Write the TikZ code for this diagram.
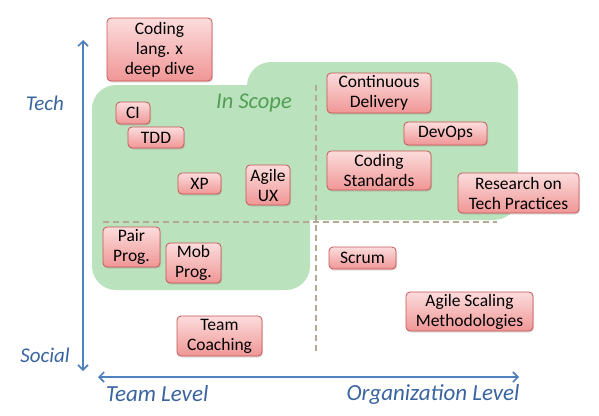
\documentclass[tikz,border=0pt]{standalone}
\usepackage{fontspec}
\setmainfont{Carlito}
\usetikzlibrary{arrows.meta,shadows}
\definecolor{scopegreen}{RGB}{186,226,188}
\definecolor{scopetext}{RGB}{82,158,84}
\definecolor{axisblue}{RGB}{79,129,189}
\definecolor{labelblue}{RGB}{58,100,160}
\definecolor{boxedge}{RGB}{200,85,85}
\definecolor{boxtop}{RGB}{252,220,220}
\definecolor{boxbot}{RGB}{240,150,150}
\definecolor{dashcol}{RGB}{180,170,148}
\tikzset{
  item/.style={draw=boxedge, line width=0.8pt, rounded corners=4pt,
    top color=boxtop, bottom color=boxbot, inner sep=0pt, align=center,
    font=\fontsize{17.5}{20}\selectfont,
    drop shadow={opacity=0.25, shadow xshift=1pt, shadow yshift=-1.5pt}},
  axisline/.style={draw=axisblue, line width=1.6pt, {Straight Barb[length=5pt,width=10pt]}-{Straight Barb[length=5pt,width=10pt]}},
  axislabel/.style={text=labelblue, font=\fontsize{23}{26}\selectfont\itshape},
  divider/.style={draw=dashcol, line width=2.3pt, dash pattern=on 6pt off 4pt},
  scope area/.style={fill=scopegreen, rounded corners=24pt}
}
\begin{document}
\begin{tikzpicture}[x=1pt,y=-1pt]
\useasboundingbox (0,0) rectangle (599,415);
% in-scope area
\fill[scope area] (92,85) rectangle (310,290);
\fill[scope area] (247,62) rectangle (518,220);
% dividers
\coordinate (hd1) at (103,222);
\coordinate (hd2) at (497,222);
\coordinate (vd1) at (316,85);
\coordinate (vd2) at (316,354);
\draw[divider] (hd1) -- (hd2);
\draw[divider] (vd1) -- (vd2);
% axes
\coordinate (vtop) at (83,40);
\coordinate (vbot) at (83,371);
\coordinate (hleft) at (98,377);
\coordinate (hright) at (519,377);
\draw[axisline] (vtop) -- (vbot);
\draw[axisline] (hleft) -- (hright);
\node[axislabel, font=\fontsize{21}{24}\selectfont\itshape] (tech) at (45,103) {Tech};
\node[axislabel, font=\fontsize{21}{24}\selectfont\itshape] (social) at (45,355) {Social};
\node[axislabel] (team) at (157,394) {Team Level};
\node[axislabel] (org) at (433,394) {Organization Level};
\node[text=scopetext, font=\fontsize{22.5}{24}\selectfont\itshape] (inscope) at (254,103) {In Scope};
% items
\node[item, minimum width=105pt, minimum height=63pt] (coding) at (159.5,49.5) {Coding\\lang. x\\deep dive};
\node[item, minimum width=34pt, minimum height=22pt] (ci) at (133,113) {CI};
\node[item, minimum width=56pt, minimum height=21pt] (tdd) at (156,137.5) {TDD};
\node[item, minimum width=43pt, minimum height=21pt] (xp) at (199.5,183.5) {XP};
\node[item, minimum width=44pt, minimum height=40pt] (agileux) at (268,185) {Agile\\UX};
\node[item, minimum width=104pt, minimum height=40pt] (cd) at (379,93) {Continuous\\Delivery};
\node[item, minimum width=83pt, minimum height=23pt] (devops) at (445.5,133.5) {DevOps};
\node[item, minimum width=104pt, minimum height=39pt] (cs) at (379,170.5) {Coding\\Standards};
\node[item, minimum width=121pt, minimum height=40pt] (research) at (518.5,193) {Research on\\Tech Practices};
\node[item, minimum width=57pt, minimum height=40pt] (pair) at (131.5,247) {Pair\\Prog.};
\node[item, minimum width=55pt, minimum height=40pt] (mob) at (193.5,263) {Mob\\Prog.};
\node[item, minimum width=85pt, minimum height=40pt] (coach) at (219.5,336) {Team\\Coaching};
\node[item, minimum width=67pt, minimum height=22pt] (scrum) at (362.5,258) {Scrum};
\node[item, minimum width=127pt, minimum height=39pt] (scaling) at (469.5,311.5) {Agile Scaling\\Methodologies};
\end{tikzpicture}
\end{document}
